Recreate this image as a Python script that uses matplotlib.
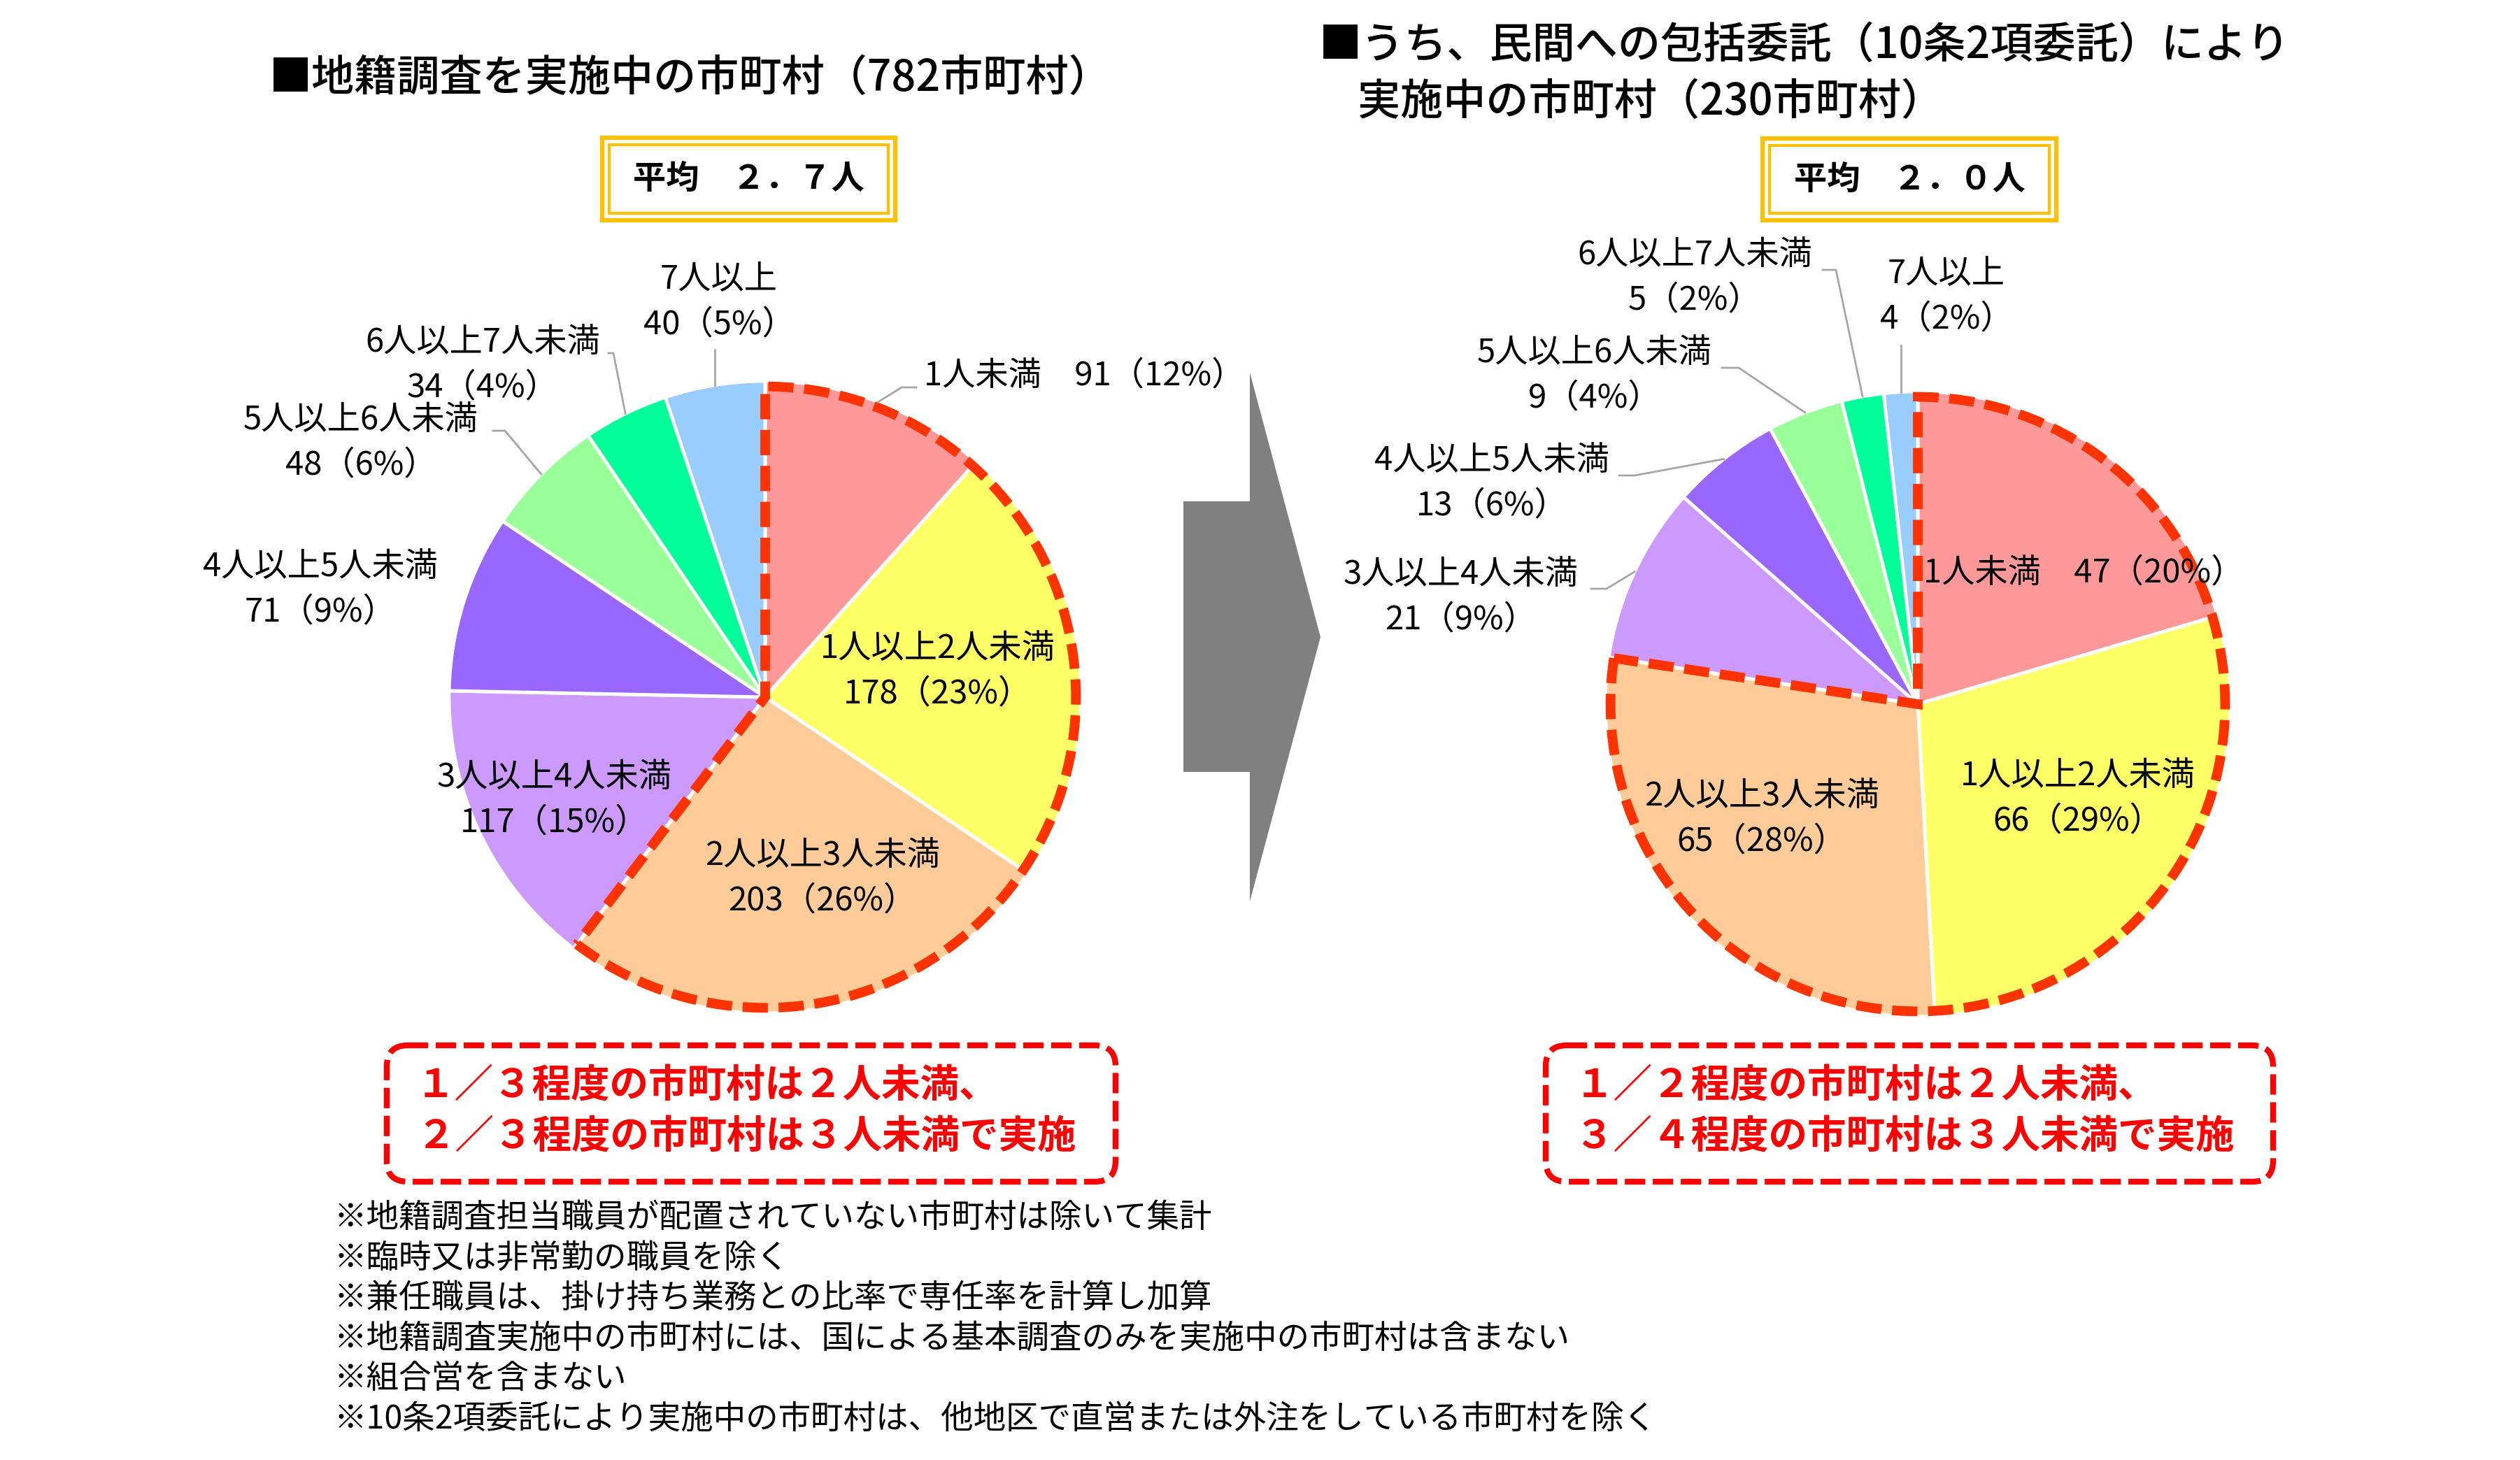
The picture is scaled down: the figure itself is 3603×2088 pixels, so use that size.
import numpy as np
import matplotlib
matplotlib.use('Agg')
import matplotlib.pyplot as plt
from matplotlib.patches import Wedge, FancyBboxPatch, Rectangle, Polygon

plt.rcParams['font.family'] = ['Noto Sans CJK JP', 'DejaVu Sans']

# data
cats = ['1人未満', '1人以上2人未満', '2人以上3人未満', '3人以上4人未満',
        '4人以上5人未満', '5人以上6人未満', '6人以上7人未満', '7人以上']
colors = ['#FF9999', '#FFFF66', '#FFCC99', '#CC99FF',
          '#9966FF', '#99FF99', '#00FF99', '#99CCFF']
all_counts = [91, 178, 203, 117, 71, 48, 34, 40]      # 782市町村
itaku_counts = [47, 66, 65, 21, 13, 9, 5, 4]          # 230市町村
avg_all = '平均　２．７人'
avg_itaku = '平均　２．０人'
msg_all = ['１／３程度の市町村は２人未満、', '２／３程度の市町村は３人未満で実施']
msg_itaku = ['１／２程度の市町村は２人未満、', '３／４程度の市町村は３人未満で実施']
notes = ['※地籍調査担当職員が配置されていない市町村は除いて集計',
         '※臨時又は非常勤の職員を除く',
         '※兼任職員は、掛け持ち業務との比率で専任率を計算し加算',
         '※地籍調査実施中の市町村には、国による基本調査のみを実施中の市町村は含まない',
         '※組合営を含まない',
         '※10条2項委託により実施中の市町村は、他地区で直営または外注をしている市町村を除く']

W, H = 3603, 2088
fig = plt.figure(figsize=(W/100, H/100), dpi=100)
ov = fig.add_axes([0, 0, 1, 1])
ov.set_xlim(0, W)
ov.set_ylim(H, 0)
ov.axis('off')
ov.set_zorder(5)
ov.patch.set_alpha(0)

LFS = 34


def draw_pie(counts, cx, cy, R, n_red, lab_xy, leads, gap):
    ax = fig.add_axes([(cx-1.1*R)/W, (H-cy-1.1*R)/H, 2.2*R/W, 2.2*R/H])
    wedges, _ = ax.pie(counts, colors=colors, startangle=90, counterclock=False,
                       wedgeprops=dict(edgecolor='white', linewidth=3.5))
    ax.set_xlim(-1.1, 1.1)
    ax.set_ylim(-1.1, 1.1)
    ax.set_aspect('equal')
    ax.axis('off')
    tot = sum(counts)
    f = sum(counts[:n_red])/tot
    ax.add_patch(Wedge((0, 0), 0.983, 90-360*f, 90, fill=False, edgecolor='#FF3300',
                       lw=10, linestyle=(0, (2.6, 1.1)), capstyle='butt', joinstyle='miter'))
    for i, w in enumerate(wedges):
        p = round(100*counts[i]/tot)
        x, y = lab_xy[i]
        if i == 0:
            ov.text(x, y, f'{cats[i]}　{counts[i]}（{p}%）', fontsize=LFS, ha='left', va='center')
        else:
            ov.text(x, y-gap/2, cats[i], fontsize=LFS, ha='center', va='center')
            ov.text(x, y+gap/2, f'{counts[i]}（{p}%）', fontsize=LFS, ha='center', va='center')
        if i in leads:
            a = np.deg2rad((w.theta1+w.theta2)/2)
            rx, ry = cx + R*np.cos(a), cy - R*np.sin(a)
            xs, ys = [rx], [ry]
            for px, py in leads[i]:
                xs.append(rx if px is None else px)
                ys.append(py)
            ov.plot(xs, ys, color='#A6A6A6', lw=2)


left_lab = [(1321, 537), (1341, 960), (1176, 1256), (793, 1144),
            (458, 843), (516, 633), (690, 522), (1028, 432)]
left_lead = {0: [(1289, 554), (1310, 554)], 5: [(722, 616), (705, 616)],
             6: [(877, 505), (870, 505)], 7: [(None, 500)]}
draw_pie(all_counts, 1094, 997, 452, 3, left_lab, left_lead, 65)

right_lab = [(2750, 819), (2971, 1142), (2519, 1171), (2089, 854),
             (2133, 691), (2280, 537), (2423, 397), (2783, 424)]
right_lead = {3: [(2297, 842), (2275, 842)], 4: [(2337, 680), (2315, 680)],
              5: [(2486, 526), (2462, 526)], 6: [(2625, 386), (2606, 386)],
              7: [(None, 494)]}
draw_pie(itaku_counts, 2742, 1007, 447, 3, right_lab, right_lead, 64)

# titles
ov.text(385, 113, '■地籍調査を実施中の市町村（782市町村）', fontsize=44, fontweight='medium', ha='left', va='center')
ov.text(1886, 66, '■うち、民間への包括委託（10条2項委託）により', fontsize=44, fontweight='medium', ha='left', va='center')
ov.text(1941, 147, '実施中の市町村（230市町村）', fontsize=44, fontweight='medium', ha='left', va='center')

# average boxes
for (x0, y0, x1, y1), s in [((861, 197, 1280, 315), avg_all), ((2520, 198, 2940, 315), avg_itaku)]:
    ov.add_patch(Rectangle((x0, y0), x1-x0, y1-y0, fill=False, edgecolor='#FFC000', lw=4.5))
    ov.add_patch(Rectangle((x0+10, y0+10), x1-x0-20, y1-y0-20, fill=False, edgecolor='#FFC000', lw=3))
    ov.text((x0+x1)/2, (y0+y1)/2, s, fontsize=34, fontweight='bold', ha='center', va='center')

# arrow
ov.add_patch(Polygon([(1692, 717), (1787, 717), (1787, 533), (1888, 911),
                      (1787, 1289), (1787, 1104), (1692, 1104)], closed=True,
                     facecolor='#808080', edgecolor='none'))

# red message boxes
for (x0, y0, x1, y1), lines in [((553, 1495, 1595, 1690), msg_all), ((2210, 1495, 3250, 1690), msg_itaku)]:
    ov.add_patch(FancyBboxPatch((x0, y0), x1-x0, y1-y0, boxstyle='round,pad=0,rounding_size=30',
                                fill=False, edgecolor='#FF0000', lw=6, linestyle=(0, (3.5, 1.3))))
    ov.text(x0+42, 1553, lines[0], fontsize=40, fontweight='bold', color='#FF0000', ha='left', va='center')
    ov.text(x0+42, 1626, lines[1], fontsize=40, fontweight='bold', color='#FF0000', ha='left', va='center')

# notes
for i, s in enumerate(notes):
    ov.text(478, 1741 + i*57.8, s, fontsize=33.5, ha='left', va='center')

fig.savefig('out.png', dpi=100)
